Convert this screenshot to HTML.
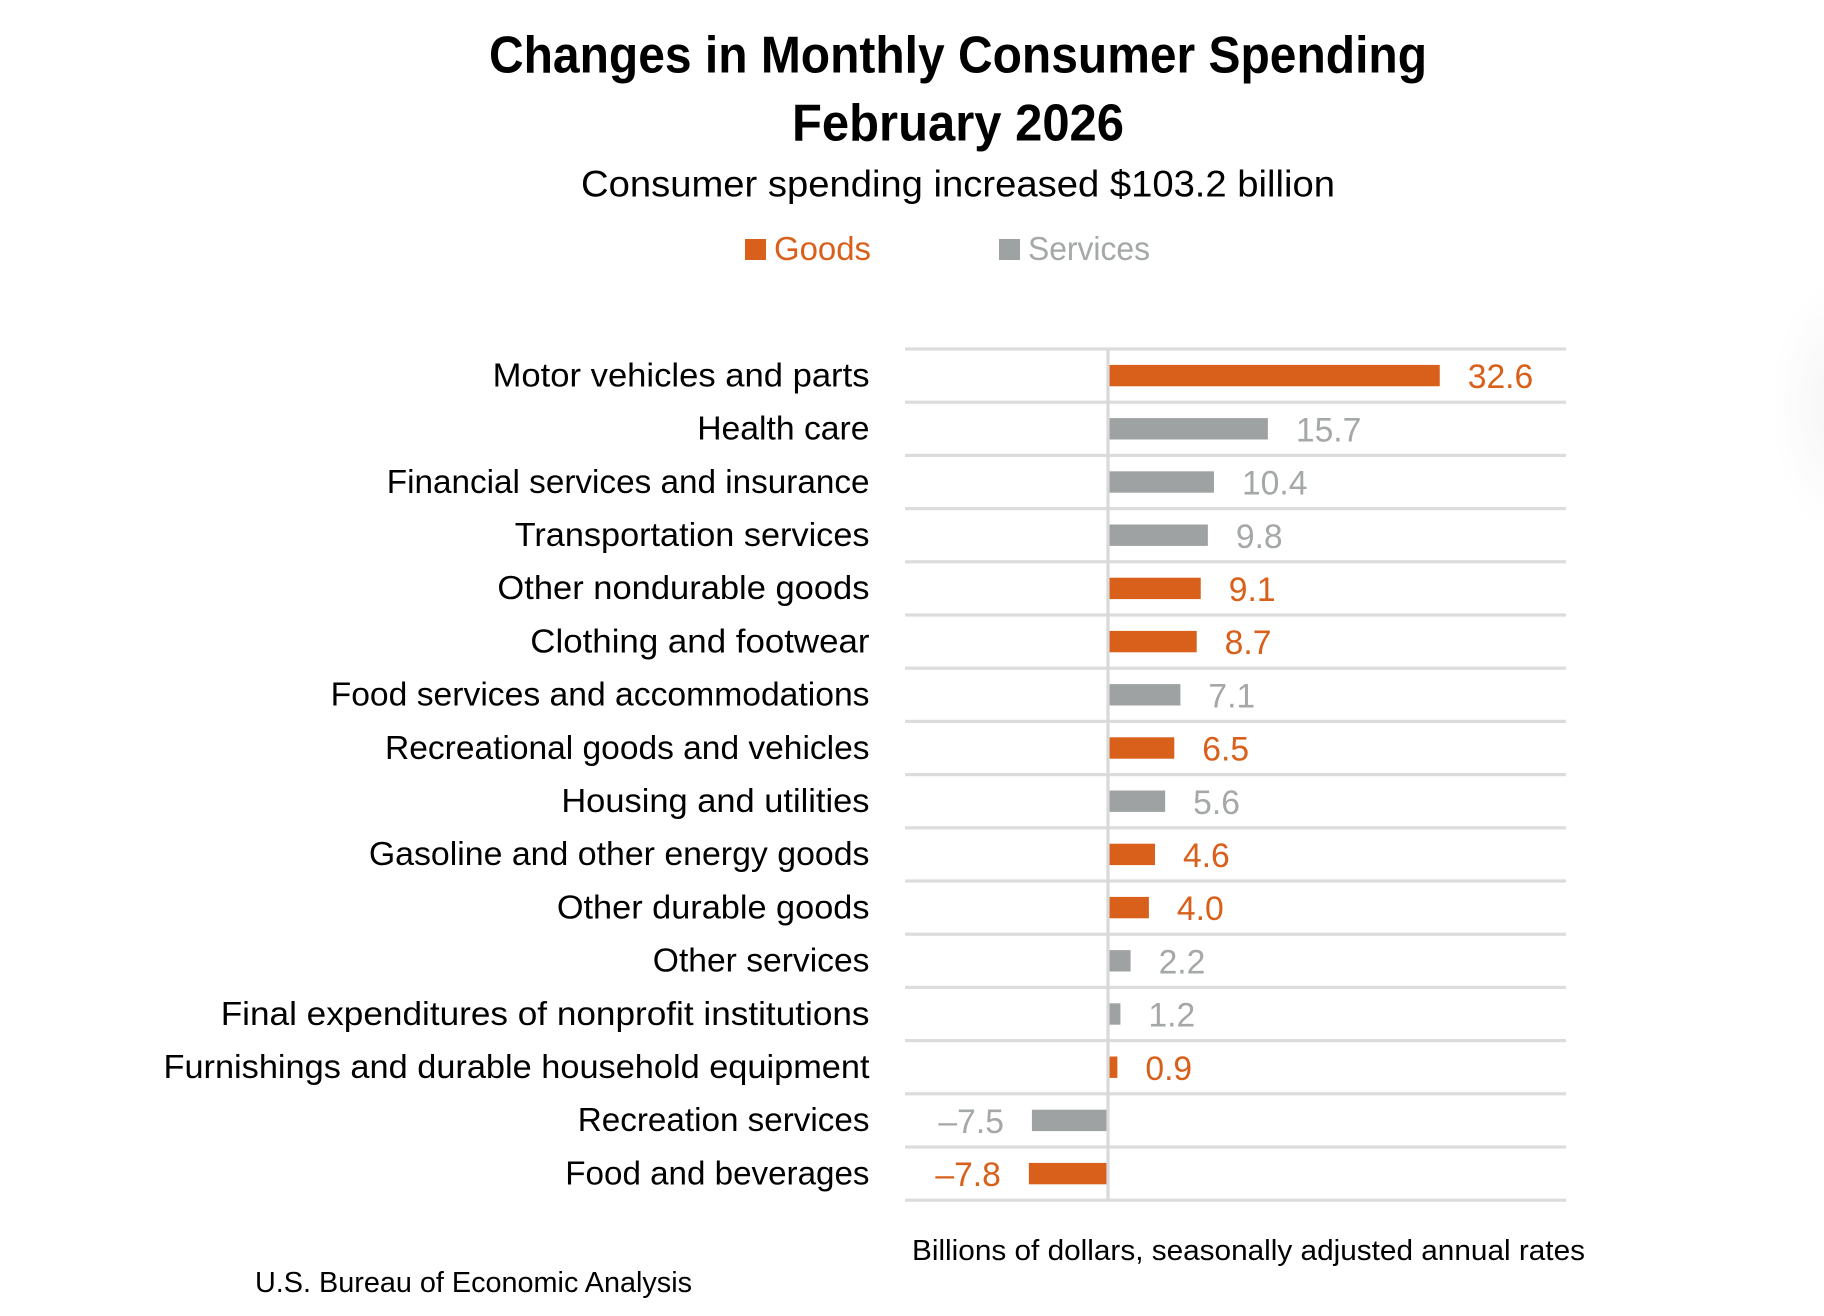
<!DOCTYPE html>
<html lang="en">
<head>
<meta charset="utf-8">
<title>Changes in Monthly Consumer Spending, February 2026</title>
<style>
html,body{margin:0;padding:0;background:#fff;width:1824px;height:1316px;overflow:hidden}
svg{display:block}
text{font-family:"Liberation Sans",Arial,sans-serif}
</style>
</head>
<body>
<svg id="chart" xmlns="http://www.w3.org/2000/svg" width="1824" height="1316" viewBox="0 0 1824 1316">
  <defs>
    <radialGradient id="edgeGlow" cx="0.5" cy="0.5" r="0.5">
      <stop offset="0" stop-color="#f6f6f6"/>
      <stop offset="1" stop-color="#ffffff"/>
    </radialGradient>
  </defs>
  <rect x="0" y="0" width="1824" height="1316" fill="#ffffff"/>
  <ellipse cx="1832" cy="405" rx="60" ry="125" fill="url(#edgeGlow)"/>

  <text x="489" y="72.5" font-size="52" font-weight="700" fill="#000" textLength="938" lengthAdjust="spacingAndGlyphs">Changes in Monthly Consumer Spending</text>
  <text x="792" y="140.5" font-size="52" font-weight="700" fill="#000" textLength="332" lengthAdjust="spacingAndGlyphs">February 2026</text>
  <text x="581" y="196.5" font-size="37" fill="#000" textLength="754" lengthAdjust="spacingAndGlyphs">Consumer spending increased $103.2 billion</text>

  <g>
    <g>
      <rect x="745" y="239" width="21" height="21" fill="#d9601a"/>
      <text x="774" y="260" font-size="33" fill="#d9601a" textLength="97" lengthAdjust="spacingAndGlyphs">Goods</text>
    </g>
    <g>
      <rect x="999" y="239" width="21" height="21" fill="#9fa2a2"/>
      <text x="1028" y="260" font-size="33" fill="#a5a8a8" textLength="122" lengthAdjust="spacingAndGlyphs">Services</text>
    </g>
  </g>

  <g id="gridlines"></g>
  <g id="bars"></g>
  <rect x="1106.4" y="349" width="3.2" height="851" fill="#d9d9d9"/>
  <g id="categoryLabels"></g>
  <g id="valueLabels"></g>

  <text x="912" y="1260" font-size="29" fill="#000" textLength="673" lengthAdjust="spacingAndGlyphs">Billions of dollars, seasonally adjusted annual rates</text>
  <text x="255" y="1292" font-size="29" fill="#000" textLength="437" lengthAdjust="spacingAndGlyphs">U.S. Bureau of Economic Analysis</text>
</svg>
<script>
const categories = [
  "Motor vehicles and parts",
  "Health care",
  "Financial services and insurance",
  "Transportation services",
  "Other nondurable goods",
  "Clothing and footwear",
  "Food services and accommodations",
  "Recreational goods and vehicles",
  "Housing and utilities",
  "Gasoline and other energy goods",
  "Other durable goods",
  "Other services",
  "Final expenditures of nonprofit institutions",
  "Furnishings and durable household equipment",
  "Recreation services",
  "Food and beverages"
];
const values = [32.6, 15.7, 10.4, 9.8, 9.1, 8.7, 7.1, 6.5, 5.6, 4.6, 4.0, 2.2, 1.2, 0.9, -7.5, -7.8];
const seriesNames = ["goods", "services", "services", "services", "goods", "goods", "services", "goods", "services", "goods", "goods", "services", "services", "goods", "services", "goods"];

const NS = "http://www.w3.org/2000/svg";
const barColor = { goods: "#d9601a", services: "#9fa2a2" };
const textColor = { goods: "#d9601a", services: "#a5a8a8" };
const plot = { left: 905, right: 1566, top: 349, bandHeight: 53.2, zeroX: 1108.2, unit: 10.17, barHeight: 21.4, labelRight: 869.5, labelGap: 28 };
/* Typography only: per-label horizontal fit so the substitute font spans the same width as the original. */
const labelFit = {
  "Motor vehicles and parts": 1.033,
  "Health care": 1.006,
  "Financial services and insurance": 0.994,
  "Transportation services": 1.023,
  "Other nondurable goods": 1.03,
  "Clothing and footwear": 1.041,
  "Food services and accommodations": 1.005,
  "Recreational goods and vehicles": 1.001,
  "Housing and utilities": 1.028,
  "Gasoline and other energy goods": 1.011,
  "Other durable goods": 1.024,
  "Other services": 1.004,
  "Final expenditures of nonprofit institutions": 1.05,
  "Furnishings and durable household equipment": 1.025,
  "Recreation services": 0.992,
  "Food and beverages": 0.99
};

function xScale(v) { return plot.zeroX + v * plot.unit; }
function bandTop(i) { return plot.top + i * plot.bandHeight; }
function bandCenter(i) { return bandTop(i) + plot.bandHeight / 2; }
function slug(s) { return s.toLowerCase().replace(/[^a-z0-9]+/g, "-"); }
function formatValue(v) { return (v < 0 ? "\u2013" : "") + Math.abs(v).toFixed(1); }
function make(tag, attrs) {
  const el = document.createElementNS(NS, tag);
  for (const k in attrs) el.setAttribute(k, attrs[k]);
  return el;
}

const gridG = document.getElementById("gridlines");
const barsG = document.getElementById("bars");
const catG = document.getElementById("categoryLabels");
const valG = document.getElementById("valueLabels");

for (let i = 0; i <= categories.length; i++) {
  const line = make("rect", { x: plot.left, y: bandTop(i) - 1.6, width: plot.right - plot.left, height: 3.2, fill: "#dcdcdc" });
  
  
  gridG.appendChild(line);
}

categories.forEach(function (name, i) {
  const v = values[i];
  const series = seriesNames[i];
  const x0 = xScale(Math.min(0, v));
  const x1 = xScale(Math.max(0, v));

  const bar = make("rect", { x: x0, y: bandCenter(i) - plot.barHeight / 2, width: x1 - x0, height: plot.barHeight, fill: barColor[series] });
  
  
  barsG.appendChild(bar);

  const fit = labelFit[name] || 1.02;
  const cat = make("text", { transform: "translate(" + plot.labelRight + "," + (bandCenter(i) + 10.8) + ") scale(" + fit + ",1)", "text-anchor": "end", "font-size": 33.5, fill: "#000" });
  
  
  cat.textContent = name;
  catG.appendChild(cat);

  const labelX = v >= 0 ? x1 + plot.labelGap : x0 - plot.labelGap;
  const val = make("text", { transform: "translate(" + labelX + "," + (bandCenter(i) + 12.6) + ") scale(0.99,1)", "text-anchor": v >= 0 ? "start" : "end", "font-size": 34, fill: textColor[series] });
  
  
  val.textContent = formatValue(v);
  valG.appendChild(val);
});
</script>
</body>
</html>
